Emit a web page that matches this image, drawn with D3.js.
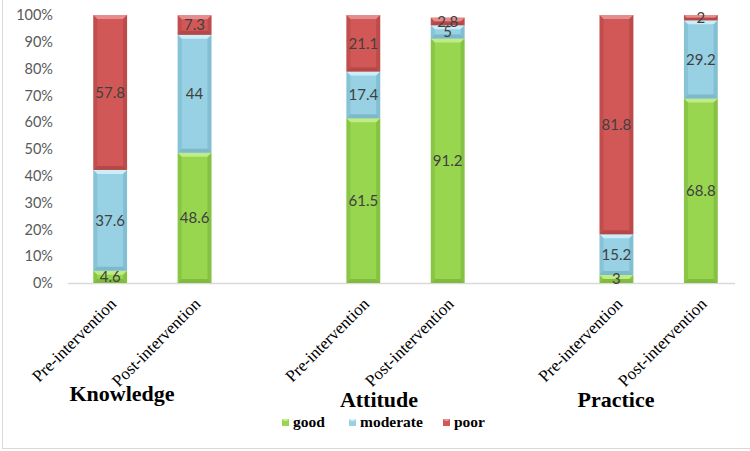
<!DOCTYPE html>
<html><head><meta charset="utf-8">
<script src="https://cdn.jsdelivr.net/npm/d3@7/dist/d3.min.js"></script>
<style>body{margin:0;background:#fff}svg{display:block}</style>
</head><body><svg id="c" width="750" height="451"></svg>
<script>
const groups = ["Knowledge", "Attitude", "Practice"];
const stages = ["Pre-intervention", "Post-intervention"];
const seriesNames = ["good", "moderate", "poor"];
// values in order: K-pre, K-post, A-pre, A-post, P-pre, P-post
const good     = [4.6, 48.6, 61.5, 91.2, 3, 68.8];
const moderate = [37.6, 44, 17.4, 5, 15.2, 29.2];
const poor     = [57.8, 7.3, 21.1, 2.8, 81.8, 2];
const yTicks = [0, 10, 20, 30, 40, 50, 60, 70, 80, 90, 100];

const colors = {good: "#98D650", moderate: "#97D1E3", poor: "#D25857"};
const lights = {good: "#C4EE8C", moderate: "#D2F1FA", poor: "#E99292"};
const darks  = {good: "#6FA832", moderate: "#6AA9BD", poor: "#A43C3C"};

const svg = d3.select("#c");
const M = {left: 68, right: 743, top: 15, bottom: 283};

// frame
svg.append("line").attr("x1", 2.5).attr("x2", 2.5).attr("y1", 0).attr("y2", 449).attr("stroke", "#D9D9D9");
svg.append("line").attr("x1", 2).attr("x2", 750).attr("y1", 448.5).attr("y2", 448.5).attr("stroke", "#D9D9D9");

const rows = [];
groups.forEach((g, gi) => stages.forEach((s, si) => {
  const i = gi * 2 + si;
  rows.push({group: g, stage: s, good: good[i], moderate: moderate[i], poor: poor[i]});
}));

const x0 = d3.scaleBand().domain(groups).range([M.left, M.right]).paddingInner(1 / 3).paddingOuter(0).align(0);
const x1 = d3.scaleBand().domain(stages).range([0, x0.bandwidth()]).paddingInner(0.6).paddingOuter(0.3);
const y = d3.scaleLinear().domain([0, 100]).range([M.bottom, M.top]);

// y axis labels
const yAxis = d3.axisLeft(y).tickValues(yTicks).tickFormat(d => d + "%").tickSize(0).tickPadding(0);
const ya = svg.append("g").attr("transform", `translate(53,0)`).call(yAxis);
ya.select(".domain").remove();
ya.selectAll("text").attr("font-family", "Lato, 'Open Sans', sans-serif").attr("font-size", 14.5).attr("fill", "#595959");

// baseline
svg.append("line").attr("x1", M.left).attr("x2", 735).attr("y1", M.bottom + 0.5).attr("y2", M.bottom + 0.5)
  .attr("stroke", "#D9D9D9").attr("stroke-width", 1.5);

const stack = d3.stack().keys(seriesNames)(rows);
const bw = x1.bandwidth();
const bev = 4;

stack.forEach(layer => {
  const key = layer.key;
  const gL = svg.append("g");
  layer.forEach((d, i) => {
    const r = rows[i];
    const xs = x0(r.group) + x1(r.stage);
    const yt = y(d[1]), yb = y(d[0]);
    const h = yb - yt;
    const b = Math.min(bev, h / 2);
    const g = gL.append("g");
    g.append("rect").attr("x", xs).attr("y", yt).attr("width", bw).attr("height", h).attr("fill", colors[key]);
    g.append("polygon").attr("points", `${xs},${yt} ${xs + bw},${yt} ${xs + bw - b},${yt + b} ${xs + b},${yt + b}`)
      .attr("fill", lights[key]).attr("opacity", 0.9);
    g.append("polygon").attr("points", `${xs},${yb} ${xs + bw},${yb} ${xs + bw - b},${yb - b} ${xs + b},${yb - b}`)
      .attr("fill", darks[key]).attr("opacity", 0.6);
    g.append("polygon").attr("points", `${xs},${yt} ${xs + b},${yt + b} ${xs + b},${yb - b} ${xs},${yb}`)
      .attr("fill", darks[key]).attr("opacity", 0.35);
    g.append("polygon").attr("points", `${xs + bw},${yt} ${xs + bw - b},${yt + b} ${xs + bw - b},${yb - b} ${xs + bw},${yb}`)
      .attr("fill", darks[key]).attr("opacity", 0.45);
  });
});
// data labels on top of all bars
stack.forEach(layer => {
  const key = layer.key;
  layer.forEach((d, i) => {
    const r = rows[i];
    const xs = x0(r.group) + x1(r.stage);
    svg.append("text").attr("x", xs + bw / 2).attr("y", (y(d[1]) + y(d[0])) / 2).attr("dy", "0.36em")
      .attr("text-anchor", "middle").attr("font-family", "Lato, 'Open Sans', sans-serif").attr("font-size", 15)
      .attr("fill", "#404040").text(d.data[key]);
  });
});

// stage labels (rotated)
rows.forEach(r => {
  const cx = x0(r.group) + x1(r.stage) + bw / 2;
  svg.append("text").attr("transform", `translate(${cx + 7},${M.bottom + 22}) rotate(-45)`)
    .attr("text-anchor", "end").attr("font-family", "'Liberation Serif', 'Times New Roman', serif")
    .attr("font-size", 17).attr("fill", "#000").text(r.stage);
});

// group labels
const groupPos = {Knowledge: [122, 401], Attitude: [379, 407], Practice: [616, 407]};
groups.forEach(g => {
  svg.append("text").attr("x", groupPos[g][0]).attr("y", groupPos[g][1]).attr("text-anchor", "middle")
    .attr("font-family", "'Liberation Serif', 'Times New Roman', serif").attr("font-weight", "bold")
    .attr("font-size", 22).attr("fill", "#000").text(g);
});

// legend
const legX = [282, 349, 443];
seriesNames.forEach((s, i) => {
  const lg = svg.append("g").attr("transform", `translate(${legX[i]},${419})`);
  lg.append("rect").attr("width", 7).attr("height", 7).attr("fill", colors[s]);
  lg.append("polygon").attr("points", "0,0 7,0 5,2 2,2").attr("fill", lights[s]);
  lg.append("text").attr("x", 11).attr("y", 8).attr("font-family", "'Liberation Serif', 'Times New Roman', serif")
    .attr("font-weight", "bold").attr("font-size", 15.5).attr("fill", "#000").text(s);
});
</script></body></html>
